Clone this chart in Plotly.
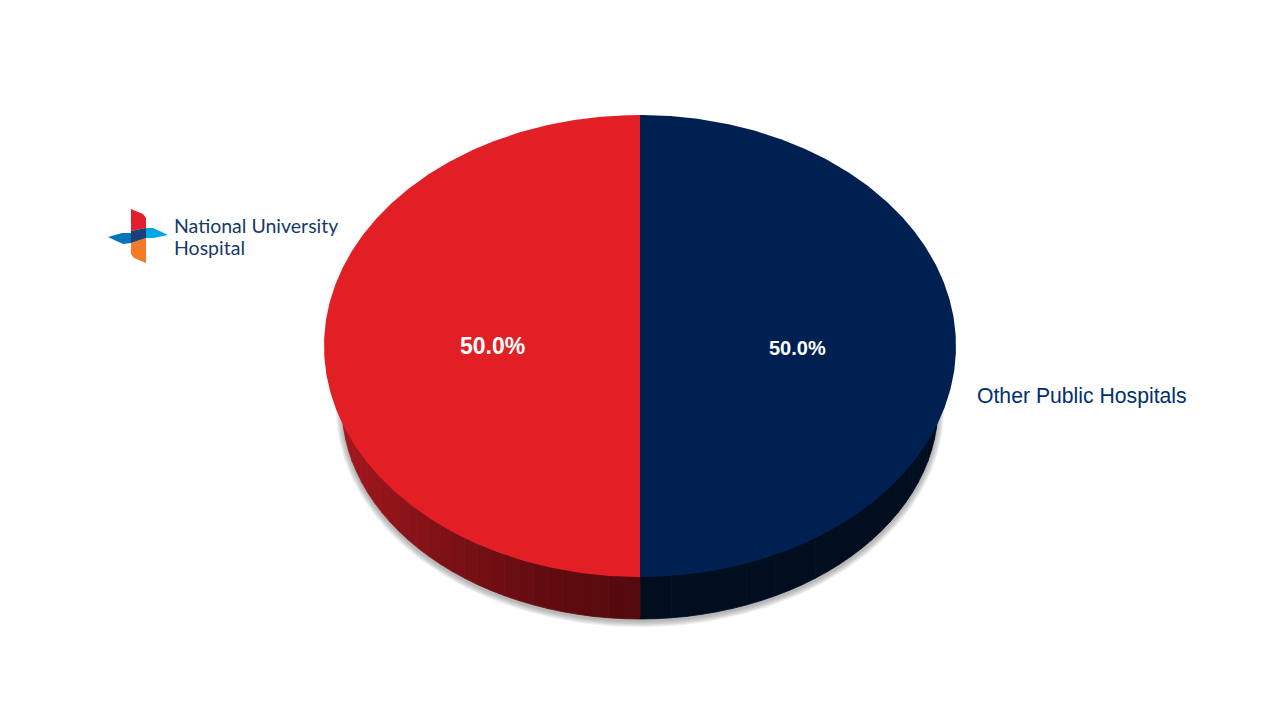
import numpy as np
import plotly.graph_objects as go

categories = ["Other Public Hospitals", "National University Hospital"]
shares = [50.0, 50.0]

TOP_COLORS = ["#002052", "#e31f26"]
SIDE_LEFT = ["#000e20", "#a3181e"]
SIDE_RIGHT = ["#000e20", "#560a0d"]

CX, CY, RX, RY = 640.0, 346.0, 316.0, 231.0
CY2, RX2, RY2 = 406.0, 298.0, 213.0

fractions = np.array(shares) / sum(shares)
edges = np.concatenate([[0.0], np.cumsum(fractions)]) * 2 * np.pi


def ell(theta, cy, rx, ry):
    return CX + rx * np.sin(theta), cy - ry * np.cos(theta)


def mix(a, b, t):
    ca = [int(a[i:i + 2], 16) for i in (1, 3, 5)]
    cb = [int(b[i:i + 2], 16) for i in (1, 3, 5)]
    return "rgb(%d,%d,%d)" % tuple(round(p + (q - p) * t) for p, q in zip(ca, cb))


def poly(xs, ys, color, lw=0):
    return go.Scatter(x=list(xs), y=list(ys), mode="lines", fill="toself", fillcolor=color,
                      line=dict(width=lw, color=color), hoverinfo="skip", showlegend=False)


fig = go.Figure()

# soft shadow beneath the pie
th = np.linspace(0, 2 * np.pi, 361)
for k in range(7, 0, -1):
    sx, sy = ell(th, CY2 + 2.0, RX2 + k * 0.9, RY2 + k * 0.9)
    fig.add_trace(poly(sx, sy, "rgba(80,80,80,0.07)"))

# side wall, drawn as narrow vertical bands below the centre line
for i in range(len(shares)):
    a0, a1 = edges[i], edges[i + 1]
    steps = 60
    th_w = np.linspace(a0, a1, steps + 1)
    for j in range(steps):
        t0, t1 = th_w[j], th_w[j + 1]
        if np.cos(t0) > 0.05 and np.cos(t1) > 0.05:
            continue
        x0, y0 = ell(t0, CY2, RX2, RY2)
        x1, y1 = ell(t1, CY2, RX2, RY2)
        u = abs(np.sin((t0 + t1) / 2))
        col = mix(SIDE_RIGHT[i], SIDE_LEFT[i], u ** 1.6)
        fig.add_trace(poly([x0, x1, x1, x0, x0], [y0, y1, CY, CY, y0], col, lw=0.8))

# top face
for i in range(len(shares)):
    th_s = np.linspace(edges[i], edges[i + 1], 361)
    x, y = ell(th_s, CY, RX, RY)
    fig.add_trace(go.Scatter(x=np.r_[CX, x, CX], y=np.r_[CY, y, CY], mode="lines", fill="toself",
                             fillcolor=TOP_COLORS[i], line=dict(width=0), name=categories[i],
                             text=categories[i], hoverinfo="text", showlegend=False))

# logo mark
logo = [
    ("#e31f2d", [(131, 209), (143, 214), (146, 218), (146, 228), (131, 231)]),
    ("#00a7e6", [(146, 228), (153, 228), (168, 235), (153, 238), (146, 238)]),
    ("#0a74bb", [(108, 237), (122, 233), (131, 233), (131, 243), (123, 244)]),
    ("#f47a27", [(131, 243), (146, 238), (146, 258), (146, 263), (134, 258), (131, 254)]),
    ("#1a3e78", [(131, 231), (146, 228), (146, 238), (131, 243)]),
]
shapes = []
for col, pts in logo:
    path = "M " + " L ".join(f"{px},{py}" for px, py in pts) + " Z"
    shapes.append(dict(type="path", path=path, xref="x", yref="y",
                       fillcolor=col, line=dict(width=0)))


def note(x, y, text, size, color, bold=False, anchor="center", family="Liberation Sans"):
    fig.add_annotation(x=x, y=y, xref="x", yref="y", showarrow=False, xanchor=anchor, yanchor="middle",
                       text=f"<b>{text}</b>" if bold else text,
                       font=dict(family=family, size=size, color=color))


note(797, 348, f"{fractions[0]:.1%}", 20, "#ffffff", bold=True)
note(492, 346, f"{fractions[1]:.1%}", 23, "#ffffff", bold=True)
note(974.5, 396, categories[0], 21.2, "#00306e", anchor="left")
note(172, 225, "National University", 19.5, "#17396c", anchor="left", family="Lato")
note(172, 247, "Hospital", 19.5, "#17396c", anchor="left", family="Lato")

fig.update_layout(
    width=1280, height=720, margin=dict(l=0, r=0, t=0, b=0),
    paper_bgcolor="#ffffff", plot_bgcolor="#ffffff", shapes=shapes, showlegend=False,
    xaxis=dict(range=[0, 1280], visible=False, fixedrange=True),
    yaxis=dict(range=[720, 0], visible=False, fixedrange=True),
)
fig.write_html("out.html", config={"displayModeBar": False},
               post_script="document.body.style.margin='0';document.body.style.overflow='hidden';")
